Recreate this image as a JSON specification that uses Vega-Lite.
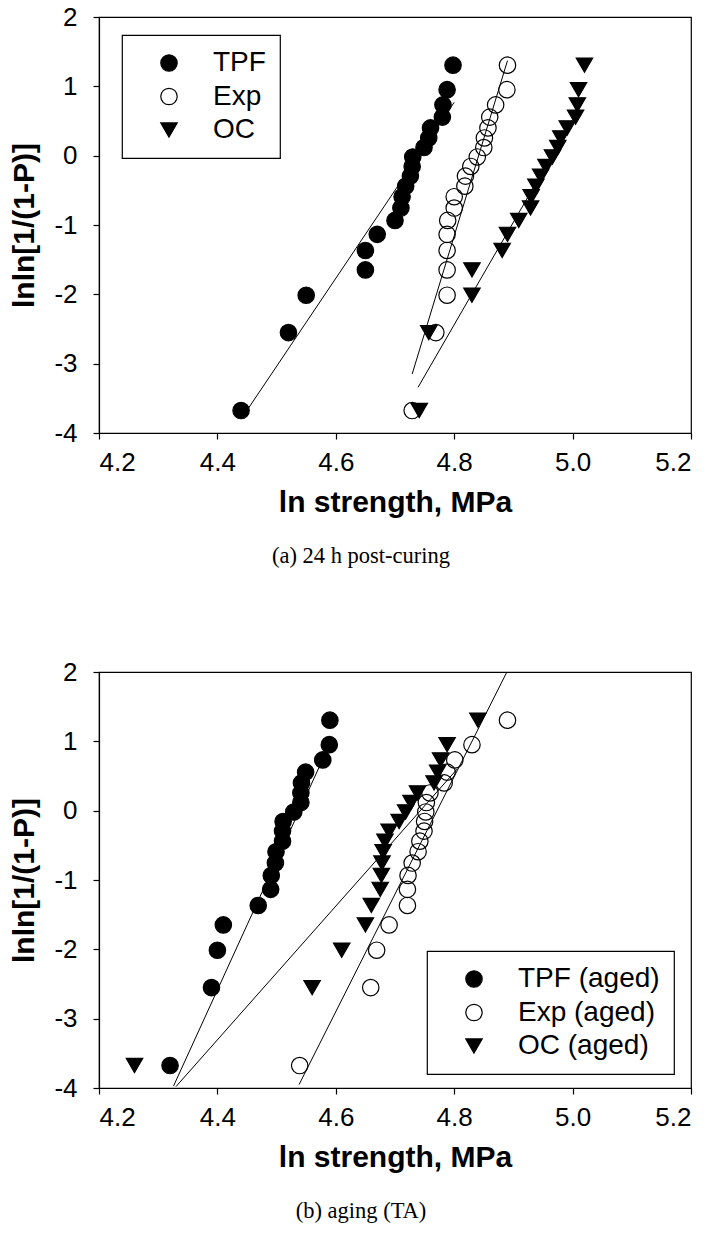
{
  "$schema": "https://vega.github.io/schema/vega-lite/v6.json",
  "background": "white",
  "padding": {"left": 9, "top": 3, "right": 20, "bottom": 5},
  "spacing": 239,
  "bounds": "flush",
  "config": {
    "view": {"stroke": "black", "strokeWidth": 1.2},
    "axis": {"domainColor": "black", "domainWidth": 1.2, "tickColor": "black", "tickWidth": 1.2, "tickSize": 6, "labelColor": "black", "titleColor": "black", "grid": false, "labelFont": "Liberation Sans", "labelFontSize": 26, "titleFont": "Liberation Sans", "titleFontWeight": "bold", "titleFontSize": 30},
    "legend": {"labelFont": "Liberation Sans", "labelFontSize": 28, "labelColor": "black", "symbolSize": 270, "symbolStrokeColor": "black", "symbolStrokeWidth": 1.2, "strokeColor": "black", "strokeWidth": 1.2, "fillColor": "white", "padding": 14, "rowPadding": 5.5, "labelOffset": 30, "symbolOffset": 19, "labelLimit": 400},
    "title": {"font": "Liberation Serif", "fontSize": 22.5, "fontWeight": "normal", "color": "black"}
  },
  "datasets": {
    "a_pts": [
      {"s":"TPF","x":4.44,"y":-3.676},{"s":"TPF","x":4.52,"y":-2.552},{"s":"TPF","x":4.55,"y":-2.013},{"s":"TPF","x":4.65,"y":-1.648},{"s":"TPF","x":4.65,"y":-1.367},{"s":"TPF","x":4.67,"y":-1.135},{"s":"TPF","x":4.70,"y":-0.934},{"s":"TPF","x":4.71,"y":-0.755},{"s":"TPF","x":4.712,"y":-0.592},{"s":"TPF","x":4.718,"y":-0.440},{"s":"TPF","x":4.726,"y":-0.295},{"s":"TPF","x":4.729,"y":-0.156},{"s":"TPF","x":4.73,"y":-0.019},{"s":"TPF","x":4.749,"y":0.117},{"s":"TPF","x":4.757,"y":0.255},{"s":"TPF","x":4.76,"y":0.400},{"s":"TPF","x":4.78,"y":0.556},{"s":"TPF","x":4.781,"y":0.732},{"s":"TPF","x":4.788,"y":0.952},{"s":"TPF","x":4.798,"y":1.305},
      {"s":"Exp","x":4.729,"y":-3.676},{"s":"Exp","x":4.769,"y":-2.552},{"s":"Exp","x":4.788,"y":-2.013},{"s":"Exp","x":4.788,"y":-1.648},{"s":"Exp","x":4.788,"y":-1.367},{"s":"Exp","x":4.788,"y":-1.135},{"s":"Exp","x":4.789,"y":-0.934},{"s":"Exp","x":4.80,"y":-0.755},{"s":"Exp","x":4.80,"y":-0.592},{"s":"Exp","x":4.818,"y":-0.440},{"s":"Exp","x":4.819,"y":-0.295},{"s":"Exp","x":4.828,"y":-0.156},{"s":"Exp","x":4.839,"y":-0.019},{"s":"Exp","x":4.85,"y":0.117},{"s":"Exp","x":4.851,"y":0.255},{"s":"Exp","x":4.857,"y":0.400},{"s":"Exp","x":4.86,"y":0.556},{"s":"Exp","x":4.87,"y":0.732},{"s":"Exp","x":4.889,"y":0.952},{"s":"Exp","x":4.89,"y":1.305},
      {"s":"OC","x":4.741,"y":-3.676},{"s":"OC","x":4.757,"y":-2.552},{"s":"OC","x":4.83,"y":-2.013},{"s":"OC","x":4.83,"y":-1.648},{"s":"OC","x":4.881,"y":-1.367},{"s":"OC","x":4.89,"y":-1.135},{"s":"OC","x":4.909,"y":-0.934},{"s":"OC","x":4.929,"y":-0.755},{"s":"OC","x":4.93,"y":-0.592},{"s":"OC","x":4.938,"y":-0.440},{"s":"OC","x":4.946,"y":-0.295},{"s":"OC","x":4.955,"y":-0.156},{"s":"OC","x":4.966,"y":-0.019},{"s":"OC","x":4.975,"y":0.117},{"s":"OC","x":4.98,"y":0.255},{"s":"OC","x":4.991,"y":0.400},{"s":"OC","x":5.005,"y":0.556},{"s":"OC","x":5.008,"y":0.732},{"s":"OC","x":5.01,"y":0.952},{"s":"OC","x":5.02,"y":1.305}
    ],
    "a_fit": [
      {"s":"TPF","x1":4.44,"y1":-3.80,"x2":4.80,"y2":0.77},
      {"s":"Exp","x1":4.729,"y1":-3.15,"x2":4.89,"y2":1.37},
      {"s":"OC","x1":4.739,"y1":-3.34,"x2":5.021,"y2":0.83}
    ],
    "b_pts": [
      {"s":"TPF (aged)","x":4.32,"y":-3.676},{"s":"TPF (aged)","x":4.39,"y":-2.552},{"s":"TPF (aged)","x":4.40,"y":-2.013},{"s":"TPF (aged)","x":4.41,"y":-1.648},{"s":"TPF (aged)","x":4.469,"y":-1.367},{"s":"TPF (aged)","x":4.49,"y":-1.135},{"s":"TPF (aged)","x":4.491,"y":-0.934},{"s":"TPF (aged)","x":4.498,"y":-0.755},{"s":"TPF (aged)","x":4.499,"y":-0.592},{"s":"TPF (aged)","x":4.51,"y":-0.440},{"s":"TPF (aged)","x":4.51,"y":-0.295},{"s":"TPF (aged)","x":4.511,"y":-0.156},{"s":"TPF (aged)","x":4.529,"y":-0.019},{"s":"TPF (aged)","x":4.541,"y":0.117},{"s":"TPF (aged)","x":4.541,"y":0.255},{"s":"TPF (aged)","x":4.542,"y":0.400},{"s":"TPF (aged)","x":4.549,"y":0.556},{"s":"TPF (aged)","x":4.578,"y":0.732},{"s":"TPF (aged)","x":4.589,"y":0.952},{"s":"TPF (aged)","x":4.59,"y":1.305},
      {"s":"Exp (aged)","x":4.539,"y":-3.676},{"s":"Exp (aged)","x":4.659,"y":-2.552},{"s":"Exp (aged)","x":4.669,"y":-2.013},{"s":"Exp (aged)","x":4.69,"y":-1.648},{"s":"Exp (aged)","x":4.721,"y":-1.367},{"s":"Exp (aged)","x":4.721,"y":-1.135},{"s":"Exp (aged)","x":4.722,"y":-0.934},{"s":"Exp (aged)","x":4.729,"y":-0.755},{"s":"Exp (aged)","x":4.739,"y":-0.592},{"s":"Exp (aged)","x":4.742,"y":-0.440},{"s":"Exp (aged)","x":4.749,"y":-0.295},{"s":"Exp (aged)","x":4.75,"y":-0.156},{"s":"Exp (aged)","x":4.752,"y":-0.019},{"s":"Exp (aged)","x":4.753,"y":0.117},{"s":"Exp (aged)","x":4.759,"y":0.255},{"s":"Exp (aged)","x":4.783,"y":0.400},{"s":"Exp (aged)","x":4.788,"y":0.556},{"s":"Exp (aged)","x":4.801,"y":0.732},{"s":"Exp (aged)","x":4.83,"y":0.952},{"s":"Exp (aged)","x":4.89,"y":1.305},
      {"s":"OC (aged)","x":4.26,"y":-3.676},{"s":"OC (aged)","x":4.56,"y":-2.552},{"s":"OC (aged)","x":4.61,"y":-2.013},{"s":"OC (aged)","x":4.65,"y":-1.648},{"s":"OC (aged)","x":4.66,"y":-1.367},{"s":"OC (aged)","x":4.675,"y":-1.135},{"s":"OC (aged)","x":4.677,"y":-0.934},{"s":"OC (aged)","x":4.678,"y":-0.755},{"s":"OC (aged)","x":4.68,"y":-0.592},{"s":"OC (aged)","x":4.683,"y":-0.440},{"s":"OC (aged)","x":4.69,"y":-0.295},{"s":"OC (aged)","x":4.707,"y":-0.156},{"s":"OC (aged)","x":4.718,"y":-0.019},{"s":"OC (aged)","x":4.727,"y":0.117},{"s":"OC (aged)","x":4.738,"y":0.255},{"s":"OC (aged)","x":4.766,"y":0.400},{"s":"OC (aged)","x":4.772,"y":0.556},{"s":"OC (aged)","x":4.777,"y":0.732},{"s":"OC (aged)","x":4.788,"y":0.952},{"s":"OC (aged)","x":4.84,"y":1.305}
    ],
    "b_fit": [
      {"s":"TPF (aged)","x1":4.326,"y1":-3.97,"x2":4.58,"y2":0.78},
      {"s":"Exp (aged)","x1":4.538,"y1":-3.95,"x2":4.889,"y2":2.0},
      {"s":"OC (aged)","x1":4.33,"y1":-3.98,"x2":4.805,"y2":0.6}
    ]
  },
  "resolve": {"scale": {"shape": "independent", "fill": "independent", "stroke": "independent"}, "legend": {"shape": "independent", "fill": "independent", "stroke": "independent"}},
  "vconcat": [
    {
      "width": 592, "height": 416,
      "title": {"text": "(a) 24 h post-curing", "orient": "bottom", "offset": 28, "dx": -34},
      "layer": [
        {
          "data": {"name": "a_fit"},
          "mark": {"type": "rule", "color": "black", "strokeWidth": 1},
          "encoding": {
            "x": {"field": "x1", "type": "quantitative", "scale": {"domain": [4.2, 5.2], "nice": false, "zero": false}, "axis": {"title": "ln strength, MPa", "values": [4.2, 4.4, 4.6, 4.8, 5.0, 5.2], "format": ".1f", "labelPadding": 10, "titlePadding": 12}},
            "y": {"field": "y1", "type": "quantitative", "scale": {"domain": [-4, 2], "nice": false, "zero": false}, "axis": {"title": "lnln[1/(1-P)]", "values": [-4, -3, -2, -1, 0, 1, 2], "labelExpr": "replace(datum.label, '\u2212', '-')", "labelPadding": 16, "titlePadding": 14}},
            "x2": {"field": "x2"},
            "y2": {"field": "y2"}
          }
        },
        {
          "data": {"name": "a_pts"},
          "mark": {"type": "point", "strokeWidth": 1.2, "opacity": 1, "size": 270},
          "encoding": {
            "x": {"field": "x", "type": "quantitative", "scale": {"domain": [4.2, 5.2], "nice": false, "zero": false}, "axis": {"title": "ln strength, MPa", "values": [4.2, 4.4, 4.6, 4.8, 5.0, 5.2], "format": ".1f", "labelPadding": 10, "titlePadding": 12}},
            "y": {"field": "y", "type": "quantitative", "scale": {"domain": [-4, 2], "nice": false, "zero": false}, "axis": {"title": "lnln[1/(1-P)]", "values": [-4, -3, -2, -1, 0, 1, 2], "labelExpr": "replace(datum.label, '\u2212', '-')", "labelPadding": 16, "titlePadding": 14}},
            "shape": {"field": "s", "type": "nominal", "scale": {"domain": ["TPF", "Exp", "OC"], "range": ["circle", "circle", "triangle-down"]}, "legend": {"title": null, "orient": "none", "legendX": 23, "legendY": 18}},
            "fill": {"field": "s", "type": "nominal", "scale": {"domain": ["TPF", "Exp", "OC"], "range": ["black", "transparent", "black"]}, "legend": {"title": null, "orient": "none", "legendX": 23, "legendY": 18}},
            "stroke": {"field": "s", "type": "nominal", "scale": {"domain": ["TPF", "Exp", "OC"], "range": ["black", "black", "black"]}, "legend": {"title": null, "orient": "none", "legendX": 23, "legendY": 18}}
          }
        }
      ]
    },
    {
      "width": 592, "height": 416,
      "title": {"text": "(b) aging (TA)", "orient": "bottom", "offset": 28, "dx": -34},
      "layer": [
        {
          "data": {"name": "b_fit"},
          "mark": {"type": "rule", "color": "black", "strokeWidth": 1},
          "encoding": {
            "x": {"field": "x1", "type": "quantitative", "scale": {"domain": [4.2, 5.2], "nice": false, "zero": false}, "axis": {"title": "ln strength, MPa", "values": [4.2, 4.4, 4.6, 4.8, 5.0, 5.2], "format": ".1f", "labelPadding": 10, "titlePadding": 12}},
            "y": {"field": "y1", "type": "quantitative", "scale": {"domain": [-4, 2], "nice": false, "zero": false}, "axis": {"title": "lnln[1/(1-P)]", "values": [-4, -3, -2, -1, 0, 1, 2], "labelExpr": "replace(datum.label, '\u2212', '-')", "labelPadding": 16, "titlePadding": 14}},
            "x2": {"field": "x2"},
            "y2": {"field": "y2"}
          }
        },
        {
          "data": {"name": "b_pts"},
          "mark": {"type": "point", "strokeWidth": 1.2, "opacity": 1, "size": 270},
          "encoding": {
            "x": {"field": "x", "type": "quantitative", "scale": {"domain": [4.2, 5.2], "nice": false, "zero": false}, "axis": {"title": "ln strength, MPa", "values": [4.2, 4.4, 4.6, 4.8, 5.0, 5.2], "format": ".1f", "labelPadding": 10, "titlePadding": 12}},
            "y": {"field": "y", "type": "quantitative", "scale": {"domain": [-4, 2], "nice": false, "zero": false}, "axis": {"title": "lnln[1/(1-P)]", "values": [-4, -3, -2, -1, 0, 1, 2], "labelExpr": "replace(datum.label, '\u2212', '-')", "labelPadding": 16, "titlePadding": 14}},
            "shape": {"field": "s", "type": "nominal", "scale": {"domain": ["TPF (aged)", "Exp (aged)", "OC (aged)"], "range": ["circle", "circle", "triangle-down"]}, "legend": {"title": null, "orient": "none", "legendX": 328, "legendY": 279}},
            "fill": {"field": "s", "type": "nominal", "scale": {"domain": ["TPF (aged)", "Exp (aged)", "OC (aged)"], "range": ["black", "transparent", "black"]}, "legend": {"title": null, "orient": "none", "legendX": 328, "legendY": 279}},
            "stroke": {"field": "s", "type": "nominal", "scale": {"domain": ["TPF (aged)", "Exp (aged)", "OC (aged)"], "range": ["black", "black", "black"]}, "legend": {"title": null, "orient": "none", "legendX": 328, "legendY": 279}}
          }
        }
      ]
    }
  ]
}
